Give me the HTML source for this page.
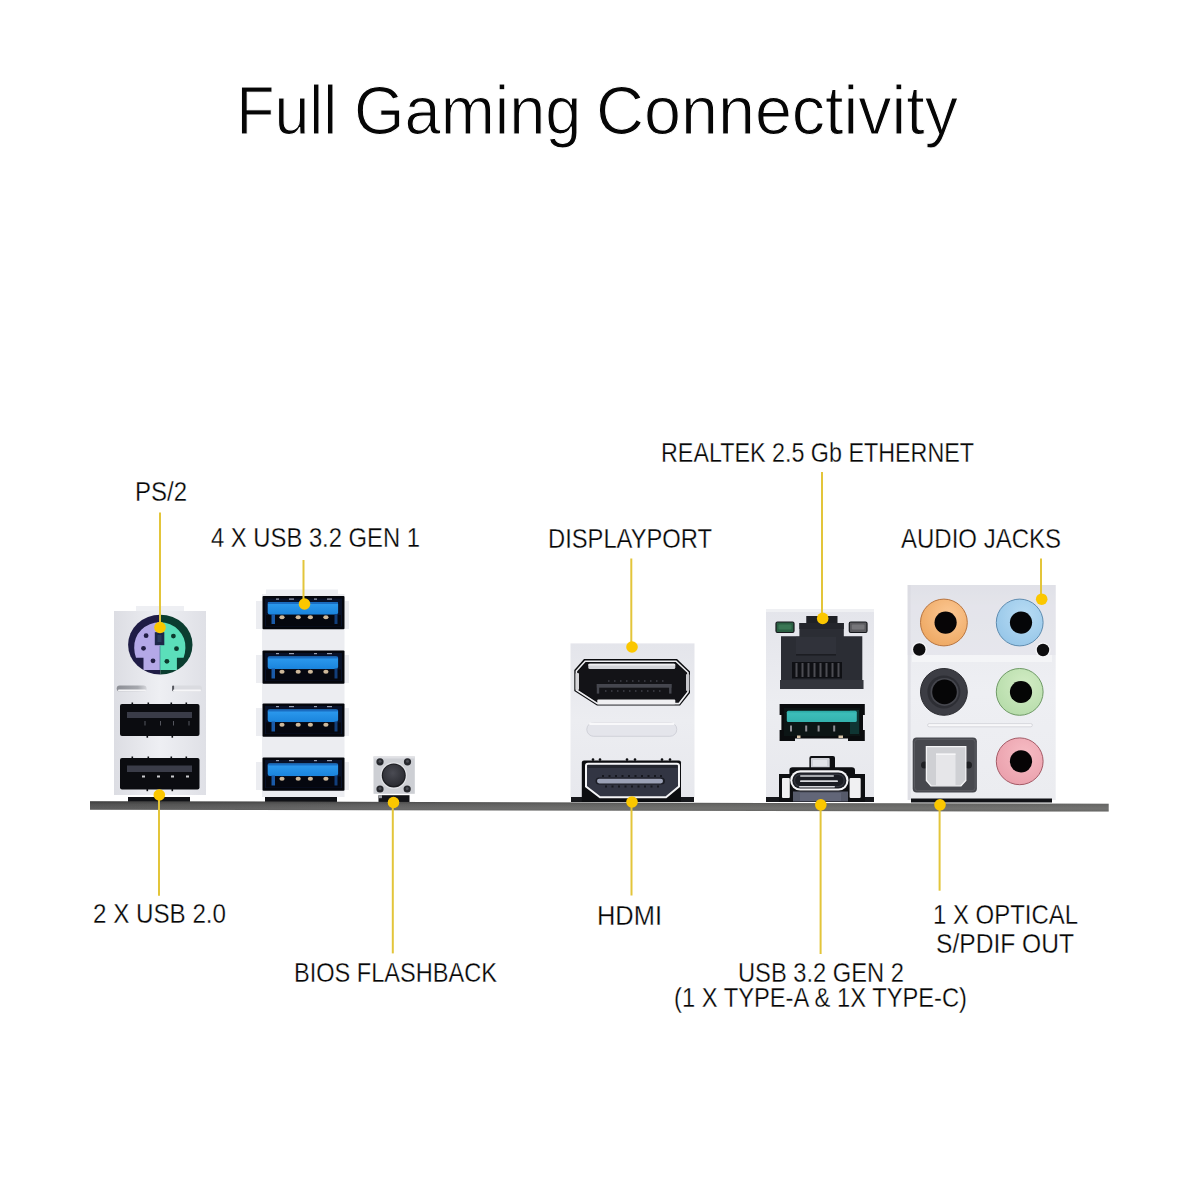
<!DOCTYPE html>
<html><head><meta charset="utf-8"><title>Full Gaming Connectivity</title>
<style>
html,body{margin:0;padding:0;background:#fff;width:1200px;height:1200px;overflow:hidden}
svg{display:block}
text{font-family:"Liberation Sans",sans-serif;fill:#060606}
</style></head><body>
<svg width="1200" height="1200" viewBox="0 0 1200 1200">
<defs>
<linearGradient id="plate" x1="0" y1="0" x2="0" y2="1">
<stop offset="0" stop-color="#e4e5eb"/><stop offset="0.5" stop-color="#ecedf1"/><stop offset="1" stop-color="#e7e8ed"/>
</linearGradient>
<linearGradient id="plateH" x1="0" y1="0" x2="1" y2="0">
<stop offset="0" stop-color="#dcdde3"/><stop offset="0.5" stop-color="#eeeff3"/><stop offset="1" stop-color="#dfe0e6"/>
</linearGradient>
<linearGradient id="bar" x1="0" y1="0" x2="1" y2="0">
<stop offset="0" stop-color="#555555"/><stop offset="0.3" stop-color="#646464"/><stop offset="0.6" stop-color="#6a6a68"/><stop offset="1" stop-color="#6c6c6a"/>
</linearGradient>
<linearGradient id="blue" x1="0" y1="0" x2="0" y2="1">
<stop offset="0" stop-color="#2e9cf0"/><stop offset="1" stop-color="#1a84dc"/>
</linearGradient>
<linearGradient id="teal" x1="0" y1="0" x2="0" y2="1">
<stop offset="0" stop-color="#2aa8a4"/><stop offset="0.25" stop-color="#3cbdb8"/><stop offset="1" stop-color="#34b2ae"/>
</linearGradient>
<radialGradient id="btn" cx="0.45" cy="0.4" r="0.6">
<stop offset="0" stop-color="#4a4b53"/><stop offset="1" stop-color="#2c2d33"/>
</radialGradient>
<linearGradient id="aplate" x1="0" y1="0" x2="0" y2="1">
<stop offset="0" stop-color="#e2e3e9"/><stop offset="0.1" stop-color="#e8e9ee"/><stop offset="0.5" stop-color="#eeeff3"/><stop offset="1" stop-color="#ebecf0"/>
</linearGradient>
<radialGradient id="gOr" cx="0.6" cy="0.35" r="0.7"><stop offset="0" stop-color="#fcc894"/><stop offset="1" stop-color="#eea862"/></radialGradient>
<radialGradient id="gBl" cx="0.6" cy="0.35" r="0.7"><stop offset="0" stop-color="#b8dcf4"/><stop offset="1" stop-color="#96c6e8"/></radialGradient>
<radialGradient id="gGr" cx="0.6" cy="0.35" r="0.7"><stop offset="0" stop-color="#d2ecc4"/><stop offset="1" stop-color="#b6dcaa"/></radialGradient>
<radialGradient id="gPk" cx="0.6" cy="0.35" r="0.7"><stop offset="0" stop-color="#f6bcc4"/><stop offset="1" stop-color="#eaa0ac"/></radialGradient>
<linearGradient id="barV" x1="0" y1="0" x2="0" y2="1">
<stop offset="0" stop-color="#000" stop-opacity="0.28"/><stop offset="0.3" stop-color="#000" stop-opacity="0.05"/><stop offset="0.7" stop-color="#fff" stop-opacity="0.04"/><stop offset="1" stop-color="#000" stop-opacity="0.12"/>
</linearGradient>
</defs>

<!-- TITLE -->
<g font-size="68.5" stroke="#fff" stroke-width="1.1">
<text x="236.2" y="134" textLength="101" lengthAdjust="spacingAndGlyphs">Full</text>
<text x="354" y="134" textLength="227.5" lengthAdjust="spacingAndGlyphs">Gaming</text>
<text x="596" y="134" textLength="362" lengthAdjust="spacingAndGlyphs">Connectivity</text>
</g>

<!-- LABELS -->
<g font-size="28.3" stroke="#fff" stroke-width="0.3">
<text x="135" y="500.8" textLength="52" lengthAdjust="spacingAndGlyphs">PS/2</text>
<text x="211" y="546.8" textLength="209" lengthAdjust="spacingAndGlyphs">4 X USB 3.2 GEN 1</text>
<text x="548" y="547.5" textLength="164" lengthAdjust="spacingAndGlyphs">DISPLAYPORT</text>
<text x="661" y="462" textLength="313" lengthAdjust="spacingAndGlyphs">REALTEK 2.5 Gb ETHERNET</text>
<text x="901" y="547.7" textLength="160" lengthAdjust="spacingAndGlyphs">AUDIO JACKS</text>
<text x="93" y="923.3" textLength="133" lengthAdjust="spacingAndGlyphs">2 X USB 2.0</text>
<text x="294" y="981.8" textLength="203" lengthAdjust="spacingAndGlyphs">BIOS FLASHBACK</text>
<text x="597" y="925" textLength="65" lengthAdjust="spacingAndGlyphs">HDMI</text>
<text x="933" y="924.4" textLength="145" lengthAdjust="spacingAndGlyphs">1 X OPTICAL</text>
<text x="936" y="953" textLength="138" lengthAdjust="spacingAndGlyphs">S/PDIF OUT</text>
<text x="738" y="982" textLength="166" lengthAdjust="spacingAndGlyphs">USB 3.2 GEN 2</text>
<text x="674" y="1007.3" textLength="293" lengthAdjust="spacingAndGlyphs">(1 X TYPE-A &amp; 1X TYPE-C)</text>
</g>

<!-- ===== LEFT PLATE: PS/2 + USB 2.0 ===== -->
<g id="left">
<rect x="136" y="606" width="48" height="6" fill="#eeeff3"/>
<rect x="114" y="611" width="92" height="184" fill="url(#plateH)"/>
<!-- ps2 -->
<clipPath id="cl"><rect x="120" y="600" width="40.3" height="90"/></clipPath>
<clipPath id="cr"><rect x="160.3" y="600" width="40" height="90"/></clipPath>
<ellipse cx="160.3" cy="644.7" rx="32.2" ry="29.9" fill="#1f1c46" clip-path="url(#cl)"/>
<ellipse cx="160.3" cy="644.7" rx="32.2" ry="29.9" fill="#0b3d30" clip-path="url(#cr)"/>
<path d="M160 622.3 A25.5 24.5 0 0 0 134.2 648 Q134.4 654 136 657.8 L143.5 657.8 L143.5 670 L160 670 Z" fill="#b4a8e7"/>
<path d="M160 622.3 A25.5 24.5 0 0 1 185.4 648 Q185.2 654 183.6 657.8 L176.9 657.8 L176.9 670 L160 670 Z" fill="#5bdfba"/>
<rect x="159.5" y="646" width="1" height="24" fill="#3a6e8a" opacity="0.6"/>
<rect x="154.8" y="632.2" width="9.5" height="13" fill="#1d2748"/>
<rect x="157.5" y="635" width="4" height="7" fill="#2a3a5c"/>
<g fill="#221e44"><circle cx="146.1" cy="635.7" r="2.4"/><circle cx="143.5" cy="648.3" r="2.4"/><circle cx="153" cy="660.8" r="2.4"/></g>
<g fill="#0d3a2e"><circle cx="173.4" cy="636.1" r="2.4"/><circle cx="176.5" cy="648.7" r="2.4"/><circle cx="166.9" cy="661.3" r="2.4"/></g>
<!-- slots -->
<linearGradient id="slotL" x1="0" y1="0" x2="1" y2="0"><stop offset="0" stop-color="#8c8e95"/><stop offset="0.7" stop-color="#a6a8ae"/><stop offset="1" stop-color="#d4d5da"/></linearGradient>
<rect x="116.7" y="685.5" width="29.9" height="5.8" rx="2.9" fill="url(#slotL)"/>
<rect x="118" y="689.6" width="28" height="1.6" rx="0.8" fill="#f4f4f6"/>
<rect x="172.1" y="685.5" width="29.9" height="5.8" rx="2.9" fill="#dadbe0"/>
<rect x="172.1" y="685.5" width="2" height="5.8" rx="1" fill="#55575e"/>
<rect x="173" y="689.6" width="28" height="1.6" rx="0.8" fill="#f6f6f8"/>
<!-- usb 2.0 ports -->
<rect x="120" y="704" width="79.5" height="32" rx="2" fill="#0b0c10"/>
<rect x="127" y="712" width="65" height="6" fill="#3a3c48"/>
<rect x="120" y="758" width="79.5" height="31.5" rx="2" fill="#0b0c10"/>
<rect x="127" y="765.5" width="65" height="6.5" fill="#3a3c48"/>
<g fill="#c9c9cc"><rect x="142" y="775.5" width="3" height="2"/><rect x="157" y="775.5" width="3" height="2"/><rect x="171" y="775.5" width="3" height="2"/><rect x="186" y="775.5" width="3" height="2"/></g>
<g fill="#55565e"><rect x="144.5" y="721" width="1" height="4.5"/><rect x="160" y="721" width="1" height="4.5"/><rect x="173" y="721" width="1" height="4.5"/><rect x="188.5" y="721" width="1" height="4.5"/></g>
<g fill="#0b0c10"><rect x="131.5" y="702.5" width="1.6" height="2"/><rect x="147.5" y="702.5" width="1.6" height="2"/><rect x="170.5" y="702.5" width="1.6" height="2"/><rect x="185.5" y="702.5" width="1.6" height="2"/>
<rect x="131.5" y="756.5" width="1.6" height="2"/><rect x="147.5" y="756.5" width="1.6" height="2"/><rect x="170.5" y="756.5" width="1.6" height="2"/><rect x="185.5" y="756.5" width="1.6" height="2"/>
<rect x="146.5" y="735.5" width="1.6" height="2.2"/><rect x="171.5" y="735.5" width="1.6" height="2.2"/><rect x="146.5" y="789" width="1.6" height="2.2"/><rect x="171.5" y="789" width="1.6" height="2.2"/></g>
<rect x="128" y="797" width="62" height="5" fill="#111216"/>
</g>

<!-- ===== USB 3.2 STACK ===== -->
<g id="usb3">
<rect x="266" y="589.5" width="72" height="8" fill="#eceef2"/>
<rect x="262" y="594" width="82.5" height="203" fill="#ecedf1"/>
<g fill="#ecedf1">
<rect x="256" y="601" width="6" height="28"/><rect x="344.5" y="601" width="4.5" height="28"/>
<rect x="256" y="655" width="6" height="28"/><rect x="344.5" y="655" width="4.5" height="28"/>
<rect x="256" y="708" width="6" height="28"/><rect x="344.5" y="708" width="4.5" height="28"/>
<rect x="256" y="762" width="6" height="28"/><rect x="344.5" y="762" width="4.5" height="28"/>
</g>
<g id="u3p">
<rect x="262.5" y="596" width="82" height="33.3" rx="1" fill="#04060c"/>
<rect x="265" y="598.5" width="77" height="28" fill="#081128"/>
<rect x="266" y="615" width="75" height="11" fill="#05070f"/>
<rect x="267.7" y="601.9" width="70.4" height="12.6" rx="2.2" fill="url(#blue)"/>
<rect x="267.7" y="601.9" width="70.4" height="2" rx="1" fill="#1a6cc0"/>
<rect x="271.5" y="614" width="3.5" height="10" fill="#1a5aa8"/>
<rect x="334.5" y="614" width="3" height="10" fill="#123e7a"/>
<g fill="#cdb89a"><ellipse cx="282" cy="617.3" rx="2.6" ry="2"/><ellipse cx="298.2" cy="617.3" rx="2.6" ry="2"/><ellipse cx="310.4" cy="617.3" rx="2.6" ry="2"/><ellipse cx="325.9" cy="617.3" rx="2.6" ry="2"/></g>
<g fill="#9aa2b4"><rect x="276" y="598.5" width="3" height="1.2"/><rect x="289" y="598.5" width="5" height="1.2"/><rect x="314" y="598.5" width="3" height="1.2"/><rect x="327" y="598.5" width="5" height="1.2"/></g>
</g>
<use href="#u3p" y="54.5"/>
<use href="#u3p" y="107.5"/>
<use href="#u3p" y="161.5"/>
<rect x="265" y="797" width="72" height="5" fill="#111216"/>
</g>

<!-- ===== BIOS BUTTON ===== -->
<g id="bios">
<rect x="373.5" y="756.5" width="41.3" height="37.3" fill="#cdcfd4"/>
<rect x="373.5" y="756.5" width="41.3" height="2" fill="#dfe0e4"/>
<circle cx="393.75" cy="775.5" r="13.3" fill="#e2e3e7"/>
<circle cx="393.75" cy="775.5" r="12" fill="#1c1d21"/>
<circle cx="393.75" cy="775.2" r="10.8" fill="url(#btn)"/>
<g fill="#26282d"><circle cx="380" cy="761.8" r="3.6"/><circle cx="407.5" cy="761.8" r="3.6"/><circle cx="380" cy="789" r="3.6"/><circle cx="407.2" cy="789" r="3.6"/></g>
<g fill="#4a4c54"><circle cx="380" cy="761.3" r="1.5"/><circle cx="407.5" cy="761.3" r="1.5"/><circle cx="380" cy="788.5" r="1.5"/><circle cx="407.2" cy="788.5" r="1.5"/></g>
<rect x="378.5" y="795.2" width="31" height="7" fill="#131418"/>
<rect x="379" y="795.2" width="3" height="3" fill="#9a9ca2"/>
</g>

<!-- ===== DP / HDMI ===== -->
<g id="dph">
<rect x="570.5" y="643.4" width="124" height="154" fill="url(#plate)"/>
<rect x="571" y="797" width="123" height="5" fill="#16171b"/>
<!-- DP -->
<path d="M584 659 L677 659 L690 671.5 L690 693 L680 705.6 L597 705.6 L574.3 691 L574.3 670 Z" fill="#0b0c0f"/>
<path d="M585.2 661.2 L676 661.2 L688 672.5 L688 692 L679 703.6 L597.6 703.6 L576.4 690 L576.4 671 Z" fill="none" stroke="#eeeef1" stroke-width="1.6"/>
<path d="M586.5 662.6 L675.3 662.6 L686.4 673.3 L686.4 691.3 L678.2 702 L598.2 702 L578 688.8 L578 671.8 Z" fill="#131317"/>
<rect x="575.6" y="673" width="3.4" height="17" rx="1" fill="#d6d6da"/>
<rect x="686" y="674" width="3.4" height="17" rx="1" fill="#c8c8cc"/>
<rect x="588.3" y="663.7" width="87" height="5.3" rx="1.5" fill="#d2d3d7"/>
<rect x="588.3" y="663.7" width="87" height="1.8" rx="0.9" fill="#eeeef0"/>
<rect x="597.3" y="699.5" width="78" height="4.8" rx="1" fill="#f0f0f2"/>
<g fill="#45464e">
<rect x="596.8" y="684" width="74.7" height="3.7"/>
<rect x="596.8" y="684" width="2.4" height="9.6"/>
<rect x="669.1" y="684" width="2.4" height="9.6"/>
</g>
<g fill="#34353c"><rect x="608" y="680" width="1.5" height="2"/><rect x="614" y="680" width="1.5" height="2"/><rect x="620" y="680" width="1.5" height="2"/><rect x="626" y="680" width="1.5" height="2"/><rect x="632" y="680" width="1.5" height="2"/><rect x="638" y="680" width="1.5" height="2"/><rect x="644" y="680" width="1.5" height="2"/><rect x="650" y="680" width="1.5" height="2"/><rect x="656" y="680" width="1.5" height="2"/><rect x="662" y="680" width="1.5" height="2"/>
<rect x="605" y="690" width="1.5" height="2"/><rect x="611" y="690" width="1.5" height="2"/><rect x="617" y="690" width="1.5" height="2"/><rect x="623" y="690" width="1.5" height="2"/><rect x="629" y="690" width="1.5" height="2"/><rect x="635" y="690" width="1.5" height="2"/><rect x="641" y="690" width="1.5" height="2"/><rect x="647" y="690" width="1.5" height="2"/><rect x="653" y="690" width="1.5" height="2"/><rect x="659" y="690" width="1.5" height="2"/></g>
<!-- mid slot -->
<rect x="586.8" y="722.5" width="90" height="13.8" rx="6.9" fill="#e4e5eb" stroke="#cdced6" stroke-width="0.9"/>
<rect x="589" y="722.6" width="85.5" height="2.4" rx="1.2" fill="#f8f8fa"/>
<!-- HDMI -->
<path d="M584 760.4 L679 760.4 Q681 760.4 681 762.5 L681 802 L581.8 802 L581.8 762.5 Q581.8 760.4 584 760.4 Z" fill="#0c0d10"/>
<g fill="#0c0d10"><circle cx="593" cy="759.6" r="1.3"/><circle cx="600" cy="759.6" r="1.3"/><circle cx="627" cy="759.6" r="1.3"/><circle cx="635" cy="759.6" r="1.3"/><circle cx="662" cy="759.6" r="1.3"/><circle cx="670" cy="759.6" r="1.3"/></g>
<path d="M588 763.7 L676.8 763.7 Q679 763.7 679 766 L679 786.5 L666 797.2 L600 797.2 L586 786.5 L586 766 Q586 763.7 588 763.7 Z" fill="#323543" stroke="#f4f4f6" stroke-width="2"/>
<rect x="587.5" y="765" width="90" height="3" fill="#23252e"/>
<rect x="595.5" y="777.6" width="69.5" height="7" rx="3.5" fill="#1b1d25"/>
<rect x="597" y="778.8" width="66" height="4.6" rx="2.3" fill="#9ba1b6"/>
<g fill="#16181f"><rect x="602" y="775" width="2" height="2"/><rect x="608.5" y="775" width="2" height="2"/><rect x="615" y="775" width="2" height="2"/><rect x="621.5" y="775" width="2" height="2"/><rect x="628" y="775" width="2" height="2"/><rect x="634.5" y="775" width="2" height="2"/><rect x="641" y="775" width="2" height="2"/><rect x="647.5" y="775" width="2" height="2"/><rect x="654" y="775" width="2" height="2"/><rect x="660" y="775" width="2" height="2"/>
<rect x="605" y="785.5" width="2" height="2"/><rect x="611.5" y="785.5" width="2" height="2"/><rect x="618" y="785.5" width="2" height="2"/><rect x="624.5" y="785.5" width="2" height="2"/><rect x="631" y="785.5" width="2" height="2"/><rect x="637.5" y="785.5" width="2" height="2"/><rect x="644" y="785.5" width="2" height="2"/><rect x="650.5" y="785.5" width="2" height="2"/><rect x="657" y="785.5" width="2" height="2"/></g>
</g>

<!-- ===== ETHERNET / USB ===== -->
<g id="eth">
<rect x="766" y="609" width="108" height="190" fill="url(#plate)"/>
<rect x="766" y="609" width="108" height="3" fill="#eff0f3"/>
<rect x="766" y="797" width="108" height="5" fill="#16171b"/>
<path d="M806.5 616 L837.3 616 L837.3 623 L843.8 623 L843.8 636.3 L862.3 636.3 L862.3 680 L863.3 680 L863.3 689 L780 689 L780 680 L781 680 L781 636.3 L799.4 636.3 L799.4 623 L806.5 623 Z" fill="#2b2d34"/>
<rect x="806.5" y="616" width="30.8" height="7" fill="#1f2126"/>
<rect x="799.4" y="623" width="44.4" height="6" fill="#24262c"/>
<rect x="796" y="636.8" width="40" height="18.5" fill="#30323a"/>
<rect x="796" y="654" width="40" height="1.6" fill="#1c1d22"/>
<rect x="780" y="680" width="83.3" height="9" fill="#34363d"/>
<rect x="792" y="662" width="50" height="16.5" fill="#0f1014"/>
<g fill="#4c4c52"><rect x="795.5" y="663" width="2" height="14"/><rect x="801.5" y="663" width="2" height="14"/><rect x="807.5" y="663" width="2" height="14"/><rect x="813.5" y="663" width="2" height="14"/><rect x="819.5" y="663" width="2" height="14"/><rect x="825.5" y="663" width="2" height="14"/><rect x="831.5" y="663" width="2" height="14"/><rect x="837.5" y="663" width="2" height="14"/></g>
<rect x="776" y="622" width="18" height="10.5" rx="1.5" fill="#2a5f42" stroke="#16181c" stroke-width="1.2"/>
<rect x="778.5" y="624.5" width="13" height="5" rx="1" fill="#3a7654"/>
<rect x="849.3" y="622" width="17.7" height="10.5" rx="1.5" fill="#5c5c60" stroke="#16181c" stroke-width="1.2"/>
<rect x="851.8" y="624.5" width="12.7" height="5" rx="1" fill="#76767a"/>
<!-- USB A teal -->
<path d="M779.6 704 L864.8 704 L864.8 715 L863 715 L863 730 L864.8 730 L864.8 741 L848 741 L848 738.5 L795 738.5 L795 741 L779.6 741 L779.6 730 L781.4 730 L781.4 715 L779.6 715 Z" fill="#0a0c0e"/>
<rect x="784" y="708" width="76" height="28" fill="#0c1515"/>
<rect x="850" y="710" width="9" height="24" fill="#0f3533"/>
<rect x="786.8" y="710.8" width="70" height="11.2" rx="1.5" fill="url(#teal)"/>
<g fill="#8e8e94"><rect x="790" y="725.5" width="2" height="6"/><rect x="805.2" y="725.5" width="2" height="6"/><rect x="817.6" y="725.5" width="2" height="6"/><rect x="833.2" y="725.5" width="2" height="6"/></g>
<g fill="#d8c4a8"><rect x="797" y="735.5" width="3.5" height="2.5"/><rect x="838.5" y="735.5" width="4.5" height="2.5"/></g>
<!-- USB C -->
<rect x="809.4" y="756.1" width="25.6" height="14" rx="2" fill="#0e0f12"/>
<rect x="810.9" y="758" width="18.8" height="11" rx="1" fill="#cfd1d7"/>
<rect x="813" y="760" width="14" height="6" fill="#e2e4e8"/>
<path d="M789.4 802 L789.4 770.5 Q789.4 767.3 792.6 767.3 L851.8 767.3 Q855 767.3 855 770.5 L855 802 Z" fill="#0e0f12"/>
<rect x="779" y="774" width="11" height="28" fill="#0e0f12"/>
<rect x="854" y="774" width="11" height="28" fill="#0e0f12"/>
<rect x="782" y="778" width="7.8" height="20" rx="1" fill="#f0f0f2"/>
<rect x="849.6" y="778" width="11.1" height="20" rx="1" fill="#f0f0f2"/>
<rect x="790.2" y="770.3" width="58.3" height="20.3" rx="10.1" fill="#f4f4f6"/>
<rect x="792.3" y="772.4" width="54.1" height="16.1" rx="8" fill="#1b1d23"/>
<rect x="794.5" y="774.4" width="49.7" height="12.1" rx="6" fill="none" stroke="#34363e" stroke-width="1.2"/>
<g fill="#d6d7dc"><rect x="800" y="775.2" width="34" height="1.6" rx="0.8"/><rect x="800" y="780.3" width="38" height="1.8" rx="0.9"/><rect x="799" y="786" width="36" height="1.6" rx="0.8"/></g>
<rect x="793" y="791.5" width="55" height="10" fill="#565a6a"/>
<rect x="800" y="793" width="41" height="8" fill="#626678"/>
</g>

<!-- ===== AUDIO ===== -->
<g id="audio">
<rect x="907.7" y="585" width="148" height="215" fill="url(#aplate)"/>
<rect x="907.7" y="585" width="148" height="70" fill="#dcdde4" opacity="0.35"/>
<rect x="912" y="655" width="140" height="7" fill="#f6f6f9" opacity="0.8"/>
<rect x="907.7" y="585" width="3" height="215" fill="#d8d9df" opacity="0.6"/>
<g id="jk">
<circle cx="943.9" cy="622.5" r="23.4" fill="url(#gOr)" stroke="#b8743e" stroke-width="1"/>
<circle cx="945.6" cy="622.6" r="11.1" fill="#070506"/>
</g>
<circle cx="1019.7" cy="622.5" r="23.4" fill="url(#gBl)" stroke="#5e8cb0" stroke-width="1"/>
<circle cx="1021" cy="622.6" r="11.1" fill="#050608"/>
<circle cx="943.9" cy="691.9" r="23.4" fill="#3c3d44" stroke="#2a2b30" stroke-width="1"/>
<circle cx="943.9" cy="691.9" r="16.5" fill="#2d2e34"/>
<circle cx="944.5" cy="691.9" r="14" fill="#46474e"/>
<circle cx="944.5" cy="691.9" r="12.3" fill="#060607"/>
<circle cx="1019.7" cy="691.9" r="23.4" fill="url(#gGr)" stroke="#6f9a66" stroke-width="1"/>
<circle cx="1021" cy="692" r="11.1" fill="#050605"/>
<circle cx="1019.7" cy="761.3" r="23.4" fill="url(#gPk)" stroke="#a45a66" stroke-width="1"/>
<circle cx="1021" cy="761.4" r="11.1" fill="#060405"/>
<circle cx="919.3" cy="649.5" r="7.6" fill="#f6f6f8"/><circle cx="1043" cy="650" r="7.6" fill="#f6f6f8"/><circle cx="919.3" cy="649.5" r="6.2" fill="#0d0d0f"/><circle cx="1043" cy="650" r="6.2" fill="#0d0d0f"/>
<rect x="927.6" y="723.6" width="104.8" height="3.2" rx="1.6" fill="#f8f8fa" stroke="#cfd0d6" stroke-width="0.8"/>
<rect x="912.7" y="737.6" width="64.2" height="54.9" rx="4" fill="#47484e"/>
<rect x="914.5" y="739.4" width="60.6" height="51.3" rx="3" fill="none" stroke="#5a5b61" stroke-width="1"/>
<circle cx="924.5" cy="765" r="3.5" fill="#1e1f23"/><circle cx="968.5" cy="765" r="3.5" fill="#1e1f23"/>
<path d="M926.4 746.7 L965.8 746.7 L965.8 780.5 L961 785.8 L931 785.8 L926.4 780.5 Z" fill="#cfd0d4" stroke="#f4f4f6" stroke-width="1.3"/>
<rect x="936" y="753.5" width="19.5" height="32" fill="#e6e6e9"/>
<rect x="936" y="753.5" width="19.5" height="1.5" fill="#f6f6f8"/>
<rect x="911" y="798.5" width="141" height="4" fill="#111216"/>
</g>

<!-- ===== BAR ===== -->
<polygon points="90,801.2 1108.7,803.8 1108.7,811.6 90,809.8" fill="url(#bar)"/>
<polygon points="90,801.2 1108.7,803.8 1108.7,811.6 90,809.8" fill="url(#barV)"/>

<!-- ===== CALLOUT LINES ===== -->
<g stroke="#e3c53a" stroke-width="2">
<line x1="160" y1="512.5" x2="160" y2="627.5"/>
<line x1="303.5" y1="560" x2="303.5" y2="604"/>
<line x1="631.3" y1="558.5" x2="631.3" y2="647"/>
<line x1="822" y1="472" x2="822" y2="618"/>
<line x1="1041" y1="558.5" x2="1041" y2="599"/>
<line x1="159" y1="795" x2="159" y2="895.7"/>
<line x1="392.8" y1="802" x2="392.8" y2="953.4"/>
<line x1="631.5" y1="802" x2="631.5" y2="895.5"/>
<line x1="820.6" y1="805" x2="820.6" y2="954"/>
<line x1="939.6" y1="805" x2="939.6" y2="890.7"/>
</g>
<g fill="#fbc700">
<circle cx="160" cy="627.5" r="5.8"/>
<circle cx="304.5" cy="604" r="5.8"/>
<circle cx="632" cy="647" r="5.8"/>
<circle cx="822.7" cy="618.4" r="5.8"/>
<circle cx="1041.7" cy="599.2" r="5.8"/>
<circle cx="159.3" cy="795" r="5.8"/>
<circle cx="393.5" cy="802.5" r="5.8"/>
<circle cx="632" cy="802" r="5.8"/>
<circle cx="820.8" cy="804.8" r="5.8"/>
<circle cx="940" cy="804.8" r="5.8"/>
</g>
</svg>
</body></html>
